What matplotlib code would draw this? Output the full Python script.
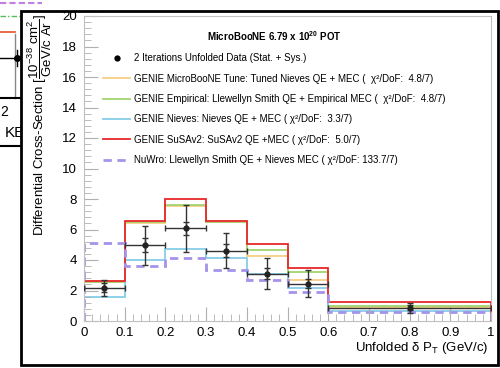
import matplotlib
matplotlib.use("Agg")
import matplotlib.pyplot as plt
from matplotlib.lines import Line2D
from matplotlib.patches import Rectangle

plt.rcParams['font.family'] = ['Liberation Sans', 'DejaVu Sans']
plt.rcParams['mathtext.fontset'] = 'custom'
plt.rcParams['mathtext.rm'] = 'Liberation Sans'
plt.rcParams['mathtext.it'] = 'Liberation Sans:italic'
plt.rcParams['mathtext.bf'] = 'Liberation Sans:bold'

# bin edges in delta P_T (GeV/c)
edges = [0.0, 0.1, 0.2, 0.3, 0.4, 0.5, 0.6, 1.0]
centers = [0.05, 0.15, 0.25, 0.35, 0.45, 0.55, 0.8]
half_w = [0.05, 0.05, 0.05, 0.05, 0.05, 0.05, 0.2]

# unfolded data
data = [2.17, 4.98, 6.07, 4.62, 3.11, 2.45, 0.88]
err_tot = [0.54, 1.28, 1.55, 1.16, 1.00, 0.87, 0.33]
err_stat = [0.30, 0.44, 0.44, 0.40, 0.35, 0.30, 0.15]

# generator predictions
genie_tune = [2.55, 6.43, 7.55, 6.47, 4.26, 2.70, 0.90]
genie_empirical = [2.59, 6.47, 7.60, 6.49, 4.67, 3.20, 0.99]
genie_nieves = [1.60, 3.99, 4.72, 4.14, 3.07, 2.15, 0.66]
genie_susav2 = [2.65, 6.58, 8.00, 6.56, 5.02, 3.47, 1.25]
nuwro = [5.13, 3.62, 4.10, 3.36, 2.72, 1.89, 0.57]

labels = ["2 Iterations Unfolded Data (Stat. + Sys.)",
          "GENIE MicroBooNE Tune: Tuned Nieves QE + MEC (  χ²/DoF:  4.8/7)",
          "GENIE Empirical: Llewellyn Smith QE + Empirical MEC (  χ²/DoF:  4.8/7)",
          "GENIE Nieves: Nieves QE + MEC ( χ²/DoF:  3.3/7)",
          "GENIE SuSAv2: SuSAv2 QE +MEC ( χ²/DoF:  5.0/7)",
          "NuWro: Llewellyn Smith QE + Nieves MEC ( χ²/DoF: 133.7/7)"]

c_orange = '#f6cf86'
c_green = '#a3d36f'
c_blue = '#86cde8'
c_red = '#e82828'
c_purple = '#a593ea'

fig = plt.figure(figsize=(5, 3.68), dpi=100)

# bits of the figure lying underneath (top left corner)
W, H = 500.0, 368.0
def fl(x0, x1, y0, y1, **kw):
    fig.add_artist(Line2D([x0 / W, x1 / W], [1 - y0 / H, 1 - y1 / H],
                          transform=fig.transFigure, zorder=-2, **kw))
fl(0, 42, 3, 3, color='#c07ee0', lw=1.5, dashes=(3, 1.5))
fl(0, 22, 16, 16, color='#5cb85c', lw=1, dashes=(4, 1.5, 1, 1.5))
fl(0, 15, 32, 32, color='#e8603a', lw=1.3)
fl(15, 15, 34, 98, color='#888888', lw=1)
fl(0, 18, 58, 58, color='black', lw=1)
fl(17, 17, 50, 66, color='black', lw=1)
fl(0, 22, 98, 98, color='black', lw=1.5)
fl(0, 22, 146, 146, color='black', lw=1.5)
fig.text(0 / W, 1 - 112 / H, "2", fontsize=10, va='center', zorder=-2)
fig.text(5 / W, 1 - 133 / H, "KE", fontsize=11, va='center', zorder=-2)
fig.add_artist(Line2D([17 / W], [1 - 58 / H], marker='o', ms=4, color='black',
                      transform=fig.transFigure, zorder=-2))

# white pad with black frame
fig.add_artist(Rectangle((20.5 / W, 3 / H), 477 / W, 354 / H, transform=fig.transFigure,
                         fc='white', ec='black', lw=2, zorder=-1))

ax = fig.add_axes([84 / W, 47 / H, 407 / W, 305 / H])
ax.set_facecolor('none')

ax.stairs(genie_tune, edges, color=c_orange, lw=1.3)
ax.stairs(genie_empirical, edges, color=c_green, lw=1.3)
ax.stairs(genie_nieves, edges, color=c_blue, lw=1.3)
ax.stairs(genie_susav2, edges, color=c_red, lw=1.3)
ax.stairs(nuwro, edges, color=c_purple, lw=2, linestyle=(0, (3, 2)))

ax.errorbar(centers, data, xerr=half_w, yerr=err_tot, fmt='o', ms=3.5, color='#222222',
            ecolor='#333333', elinewidth=1, capsize=2.5, capthick=1, zorder=5)
ax.errorbar(centers, data, yerr=err_stat, fmt='none', ecolor='#333333',
            elinewidth=1, capsize=2.5, capthick=1, zorder=5)

ax.set_xlim(0, 1)
ax.set_ylim(0, 20)
ax.set_xticks([i / 10 for i in range(11)])
ax.set_xticklabels(['0', '0.1', '0.2', '0.3', '0.4', '0.5', '0.6', '0.7', '0.8', '0.9', '1'])
ax.set_xticks([i / 50 for i in range(51)], minor=True)
ax.set_yticks(range(0, 21, 2))
ax.set_yticks([i * 0.4 for i in range(51)], minor=True)
ax.tick_params(which='both', direction='in', color='#b0b0b0', labelsize=9.5)
ax.tick_params(which='major', length=10)
ax.tick_params(which='minor', length=5)
ax.tick_params(axis='x', pad=4)
ax.tick_params(axis='y', pad=5)
for s in ax.spines.values():
    s.set_color('#c0c0c0')

fig.text(488 / W, 1 - 348 / H, r'Unfolded δ P$_{\mathrm{T}}$ (GeV/c)', fontsize=9.5,
         ha='right', va='center')
fig.text(40 / W, 1 - 14 / H,
         r'Differential Cross-Section [$\dfrac{10^{-38}\ \mathrm{cm}^{2}}{\mathrm{GeV/c\ Ar}}$]',
         fontsize=9.5, rotation=90, ha='center', va='top')

handles = [Line2D([], [], marker='o', ms=3.5, color='black', linestyle='none'),
           Line2D([], [], color=c_orange, lw=1.3),
           Line2D([], [], color=c_green, lw=1.3),
           Line2D([], [], color=c_blue, lw=1.3),
           Line2D([], [], color=c_red, lw=1.3),
           Line2D([], [], color=c_purple, lw=2, linestyle=(0, (3, 2)))]
leg = ax.legend(handles, labels, loc='upper left', bbox_to_anchor=(103 / W, 1 - 29 / H),
                bbox_transform=fig.transFigure, frameon=False, fontsize=7.0,
                title=r'MicroBooNE 6.79 x 10$^{\mathbf{20}}$ POT',
                title_fontproperties={'weight': 'bold', 'size': 7.0},
                borderpad=0, borderaxespad=0, handlelength=2.78, handletextpad=0.41,
                labelspacing=1.07)

fig.savefig('out.png', dpi=100)
